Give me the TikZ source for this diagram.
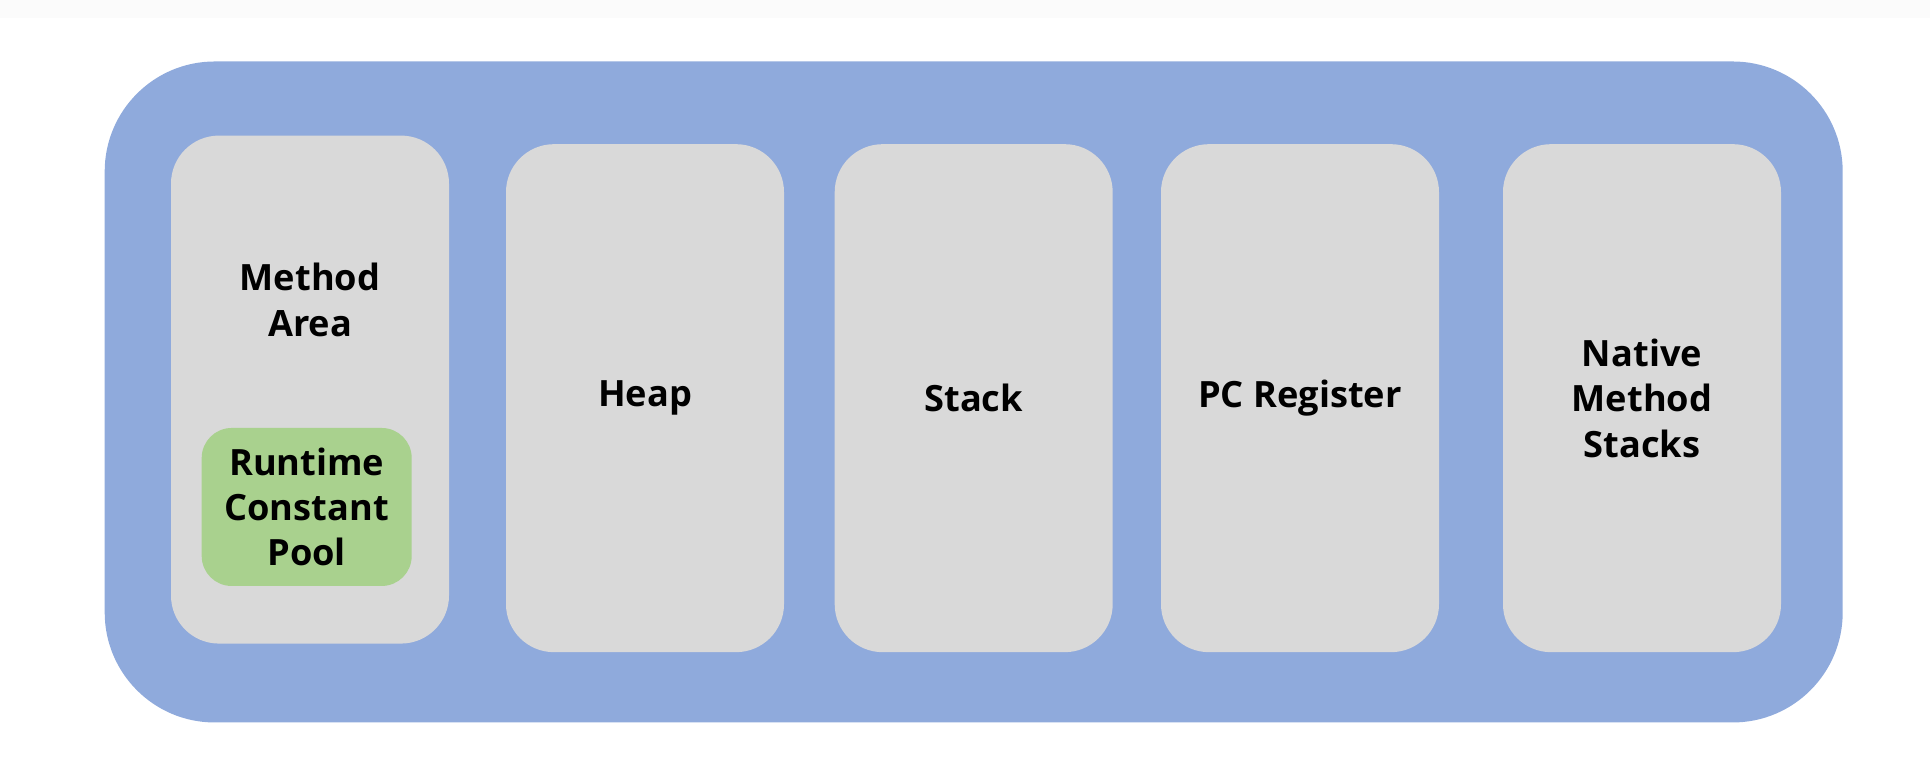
\documentclass[tikz,border=0pt]{standalone}
\usepackage{fontspec}
\setmainfont{Open Sans}
\usetikzlibrary{positioning}

\definecolor{jvmblue}{HTML}{8FAADC}
\definecolor{areagray}{HTML}{D9D9D9}
\definecolor{poolgreen}{HTML}{A9D18E}

\begin{document}
\begin{tikzpicture}[
        font=\fontsize{10.3}{12.9}\selectfont\bfseries,
        jvm/.style={fill=jvmblue, rounded corners=1.1cm, minimum width=17.38cm, minimum height=6.61cm, inner sep=0pt},
        area/.style={fill=areagray, rounded corners=0.48cm, minimum width=2.78cm, minimum height=5.08cm, inner sep=0pt, align=center},
        pool/.style={fill=poolgreen, rounded corners=0.3cm, minimum width=2.10cm, minimum height=1.58cm, inner sep=0pt, align=center},
    ]

        % Page and faint top strip
        \useasboundingbox (0,0) rectangle (19.30,7.75);
        \fill[black!1.5] (0,7.57) rectangle (19.30,7.75);

        % Draw the runtime data area
        \node[jvm] (JVM) at (9.737,3.83) {};

        % Draw the method area and its constant pool
        \node[area] (A-1) at (3.10,3.854) {};
        \node[align=center] (A-1-label) at (3.10,4.75) {Method\\Area};
        \node[pool] (P) at (3.067,2.68) {Runtime\\Constant\\Pool};

        % Draw the other areas
        \foreach \name / \x / \txt in {2/6.45/Heap, 3/9.737/Stack, 4/13.0/PC Register, 5/16.42/{Native\\Method\\Stacks}}
            \node[area] (A-\name) at (\x,3.768) {\txt};

    \end{tikzpicture}
\end{document}
